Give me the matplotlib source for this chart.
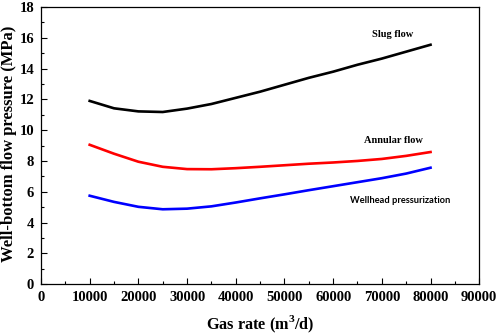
import matplotlib
matplotlib.use("Agg")
import matplotlib.pyplot as plt
from matplotlib.ticker import MultipleLocator

gas_rate = [10000, 15000, 20000, 25000, 30000, 35000, 40000, 45000,
            50000, 55000, 60000, 65000, 70000, 75000, 80000]
slug_flow = [11.9, 11.42, 11.22, 11.18, 11.4, 11.7, 12.1, 12.5,
             12.95, 13.4, 13.8, 14.25, 14.65, 15.1, 15.55]
annular_flow = [9.05, 8.47, 7.95, 7.62, 7.47, 7.46, 7.53, 7.62,
                7.72, 7.82, 7.9, 8.0, 8.13, 8.33, 8.58]
wellhead = [5.74, 5.34, 5.02, 4.86, 4.9, 5.05, 5.3, 5.57,
            5.83, 6.1, 6.36, 6.62, 6.88, 7.18, 7.56]

serif = "Liberation Serif"
plt.rcParams["mathtext.fontset"] = "custom"
plt.rcParams["mathtext.rm"] = "Liberation Serif:bold"
plt.rcParams["mathtext.bf"] = "Liberation Serif:bold"

fig = plt.figure(figsize=(4.98, 3.35), dpi=100)
ax = fig.add_axes([0.0823, 0.152, 0.880, 0.827])

ax.plot(gas_rate, slug_flow, color="black", lw=1.9)
ax.plot(gas_rate, annular_flow, color="#ff0000", lw=1.9)
ax.plot(gas_rate, wellhead, color="#0000ff", lw=1.9)

ax.set_xlim(0, 90000)
ax.set_ylim(0, 18)
ax.xaxis.set_major_locator(MultipleLocator(10000))
ax.xaxis.set_minor_locator(MultipleLocator(5000))
ax.yaxis.set_major_locator(MultipleLocator(2))
ax.yaxis.set_minor_locator(MultipleLocator(1))
ax.tick_params(which="both", direction="in", top=False, right=False)
ax.tick_params(which="major", length=4, width=0.8, labelsize=10.5, pad=5)
ax.tick_params(which="minor", length=2.5, width=0.8)
for lbl in ax.get_xticklabels() + ax.get_yticklabels():
    lbl.set_fontfamily(serif)
    lbl.set_fontweight("bold")
for s in ax.spines.values():
    s.set_linewidth(0.9)

ax.set_xlabel("Gas rate (m$^\\mathbf{3}$/d)", fontfamily=serif, fontweight="bold",
              fontsize=11.7, va="center")
ax.set_ylabel("Well-bottom flow pressure (MPa)", fontfamily=serif, fontweight="bold",
              fontsize=12, va="center")
ax.xaxis.set_label_coords(0.501, -0.144)
ax.yaxis.set_label_coords(-0.073, 0.505)

ax.text(72300, 16.2, "Slug flow", fontfamily=serif, fontweight="bold",
        fontsize=7.5, ha="center", va="center")
ax.text(72300, 9.3, "Annular flow", fontfamily=serif, fontweight="bold",
        fontsize=7.5, ha="center", va="center")
ax.text(73800, 5.45, "Wellhead pressurization", fontfamily="Lato", fontweight="bold",
        fontsize=6.7, ha="center", va="center")

fig.savefig("out.png", dpi=100)
